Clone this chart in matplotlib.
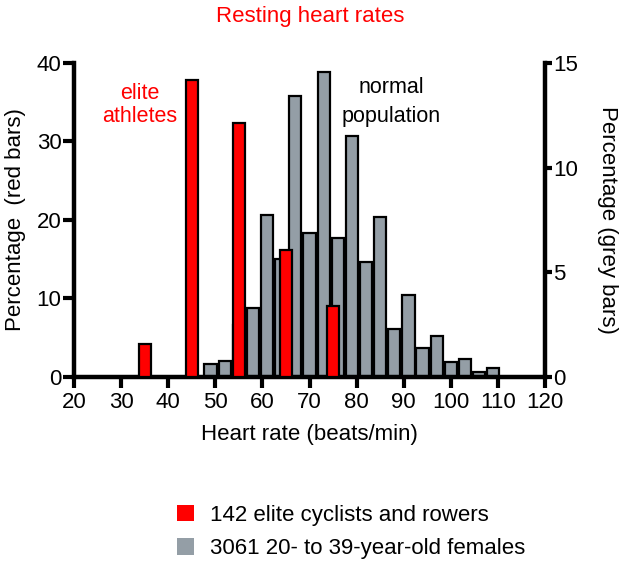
import matplotlib
matplotlib.use("Agg")
import matplotlib.pyplot as plt
from matplotlib.patches import Patch

plt.rcParams['font.family'] = ['Liberation Sans', 'DejaVu Sans']

# Elite athletes (red bars, left axis), 10-bpm bins
red_centers = [35, 45, 55, 65, 75]
red_values = [4.2, 37.8, 32.3, 16.2, 9.0]

# Normal population (grey bars, right axis), 3-bpm bins
grey_centers = [49, 52, 55, 58, 61, 64, 67, 70, 73, 76, 79, 82, 85, 88, 91, 94,
                97, 100, 103, 106, 109]
grey_values = [0.62, 0.77, 2.5, 3.3, 7.75, 5.65, 13.4, 6.9, 14.55, 6.65, 11.5,
               5.5, 7.65, 2.3, 3.9, 1.4, 1.95, 0.7, 0.85, 0.25, 0.42]

x_ticks = list(range(20, 121, 10))
left_ticks = [0, 10, 20, 30, 40]
right_ticks = [0, 5, 10, 15]

RED = '#ff0000'
GREY = '#949ea6'
FS = 16

fig = plt.figure(figsize=(6.31, 5.61), dpi=100)
ax = fig.add_axes([0.1173, 0.328, 0.7464, 0.5597])
ax2 = ax.twinx()

ax2.bar(grey_centers, grey_values, width=2.6, color=GREY, edgecolor='black',
        linewidth=1.6, zorder=2)
ax.bar(red_centers, red_values, width=2.6, color=RED, edgecolor='black',
       linewidth=1.6, zorder=3)

ax.set_zorder(ax2.get_zorder() + 1)
ax.patch.set_visible(False)

ax.set_xlim(20, 120)
ax.set_ylim(0, 40)
ax2.set_ylim(0, 15)
ax.set_xticks(x_ticks)
ax.set_yticks(left_ticks)
ax2.set_yticks(right_ticks)

for a in (ax, ax2):
    a.spines['top'].set_visible(False)
    for s in ('left', 'right', 'bottom'):
        a.spines[s].set_linewidth(3.2)
ax.spines['right'].set_visible(False)
ax2.spines['left'].set_visible(False)
ax2.spines['bottom'].set_visible(False)

ax.tick_params(axis='x', direction='out', length=8, width=3, labelsize=FS, pad=3)
ax.tick_params(axis='y', direction='out', length=8, width=3, labelsize=FS, pad=1)
ax2.tick_params(axis='y', direction='out', length=5, width=3, labelsize=FS, pad=1)

ax.set_xlabel('Heart rate (beats/min)', fontsize=FS, labelpad=8)
ax.set_ylabel('Percentage  (red bars)', fontsize=FS, labelpad=8)
ax2.set_ylabel('Percentage (grey bars)', fontsize=FS, rotation=270, labelpad=29)

fig.text(0.491, 0.971, 'Resting heart rates', color=RED, fontsize=FS,
         ha='center', va='center')
ax.text(34.0, 35.4, 'elite', color=RED, fontsize=15.5, ha='center', va='baseline')
ax.text(34.0, 32.5, 'athletes', color=RED, fontsize=15.5, ha='center', va='baseline')
ax.text(87.4, 36.2, 'normal', color='black', fontsize=15.5, ha='center', va='baseline')
ax.text(87.4, 32.5, 'population', color='black', fontsize=15.5, ha='center', va='baseline')

handles = [Patch(facecolor=RED, edgecolor='none'),
           Patch(facecolor=GREY, edgecolor='none')]
labels = ['142 elite cyclists and rowers', '3061 20- to 39-year-old females']
fig.legend(handles, labels, loc='upper left', bbox_to_anchor=(0.2805, 0.100),
           frameon=False, fontsize=FS, handlelength=0.77, handleheight=0.77,
           handletextpad=0.72, labelspacing=0.55, borderaxespad=0, borderpad=0)

fig.savefig('out.png', dpi=100)
